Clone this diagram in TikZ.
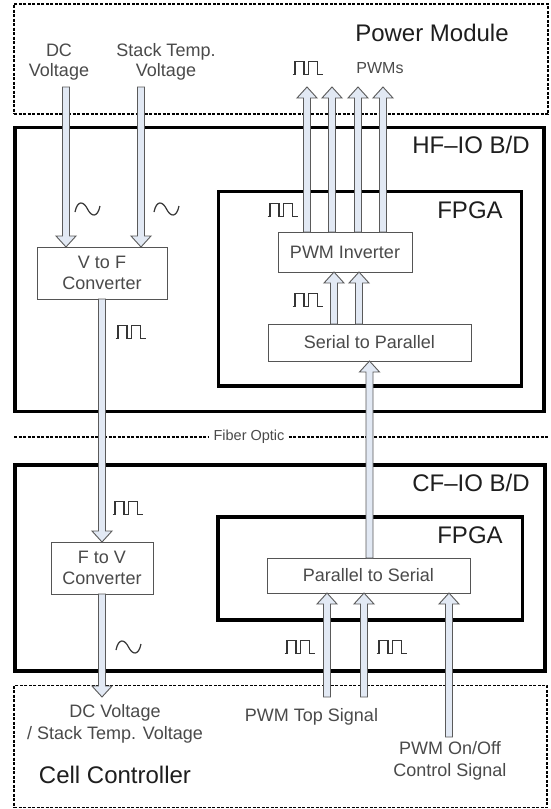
\documentclass[tikz,border=0pt]{standalone}
\usepackage{fontspec}
\setmainfont{Liberation Sans}
\usetikzlibrary{calc}
\definecolor{arrfill}{HTML}{E2E9F4}
\definecolor{arrline}{HTML}{5A5A5A}
\definecolor{txtgray}{HTML}{4A4A4A}
\definecolor{txtdark}{HTML}{1E1E1E}
\definecolor{boxline}{HTML}{555555}
\newcommand{\bigarrow}[2]{\path[bigarr] let \p1=#1, \p2=#2, \n1={ifthenelse(\y2>\y1,1,-1)} in
  ({\x1-3.5pt},\y1) -- ({\x1-3.5pt},{\y2-\n1*11pt}) -- ({\x1-10pt},{\y2-\n1*11pt}) -- (\x1,\y2)
  -- ({\x1+10pt},{\y2-\n1*11pt}) -- ({\x1+3.5pt},{\y2-\n1*11pt}) -- ({\x1+3.5pt},\y1) -- cycle;}
\tikzset{
  bigarr/.style={fill=arrfill,draw=arrline,line width=0.9pt,line join=miter},
  thinbox/.style={draw=boxline,line width=1pt,fill=white,inner sep=0pt,outer sep=0pt,
     text=txtgray,align=center,font=\fontsize{18}{21}\selectfont},
  thickbox/.style={draw=black,line width=3.6pt,inner sep=0pt,outer sep=0pt},
  dashbox/.style={draw=black,line width=1.4pt,dash pattern=on 3pt off 1.5pt,inner sep=0pt,outer sep=0pt},
  biglbl/.style={text=txtdark,font=\fontsize{24}{26}\selectfont,inner sep=0pt},
  smlbl/.style={text=txtgray,align=center,font=\fontsize{18}{20.5}\selectfont,inner sep=0pt},
  fiber/.style={draw=black,line width=1.3pt,dash pattern=on 3pt off 1.5pt},
  sqw/.pic={\draw[txtdark!90,line width=1.2pt,line join=miter]
     (-15.5,6.5) -- (-13,6.5) -- (-13,-6.5) -- (-4,-6.5) -- (-4,6.5) -- (0.5,6.5) -- (0.5,-6.5)
     -- (9.5,-6.5) -- (9.5,6.5) -- (15,6.5);},
  tld/.pic={\draw[txtdark!90,line width=1.2pt]
     (-12.5,3) .. controls (-10,-9) and (-4,-8) .. (0,0) .. controls (4,8) and (10,9) .. (12.5,-3);}
}
\begin{document}
\begin{tikzpicture}[x=1pt,y=-1pt]
\useasboundingbox[fill=white] (0,0) rectangle (550,809);
% outer boxes
\node[dashbox,minimum width=534pt,minimum height=110pt] (pm) at (281,59) {};
\node[dashbox,minimum width=533pt,minimum height=122pt] (cc) at (280.5,746.5) {};
\node[thickbox,minimum width=529pt,minimum height=284pt] (hf) at (279.5,269.5) {};
\node[thickbox,minimum width=303pt,minimum height=194.5pt] (fpgaA) at (370,288.75) {};
\node[thickbox,minimum width=530pt,minimum height=206pt] (cf) at (280,568) {};
\node[thickbox,minimum width=304.5pt,minimum height=103pt] (fpgaB) at (370.25,568.5) {};
% labels of outer boxes
\node[biglbl] (pmlbl) at (432,33) {Power Module};
\node[biglbl] (hflbl) at (471,145) {HF–IO B/D};
\node[biglbl] (fpgaAlbl) at (470,210) {FPGA};
\node[biglbl] (cflbl) at (471,483) {CF–IO B/D};
\node[biglbl] (fpgaBlbl) at (470,535) {FPGA};
\node[biglbl] (cclbl) at (115,775) {Cell Controller};
% inner boxes
\node[thinbox,minimum width=134pt,minimum height=40pt] (pwm) at (345,252) {PWM Inverter};
\node[thinbox,minimum width=203pt,minimum height=37pt] (s2p) at (369.5,342.5) {Serial to Parallel};
\node[thinbox,minimum width=130pt,minimum height=52pt] (vf) at (102,273) {V to F\\Converter};
\node[thinbox,minimum width=203pt,minimum height=35pt] (p2s) at (368.5,575.5) {Parallel to Serial};
\node[thinbox,minimum width=102pt,minimum height=52pt] (fv) at (102,568) {F to V\\Converter};
% small labels
\node[smlbl] (dclbl) at (59,62) {DC\\Voltage};
\node[smlbl] (stlbl) at (166,62) {Stack Temp.\\Voltage};
\node[smlbl,font=\fontsize{16}{18}\selectfont] (pwmslbl) at (380,68) {PWMs};
\node[smlbl,align=center,font=\fontsize{18}{22}\selectfont] (dcout) at (115,724) {DC Voltage\\/ Stack Temp. Voltage};
\node[smlbl] (toplbl) at (311.5,717) {PWM Top Signal};
\node[smlbl,font=\fontsize{18}{22}\selectfont] (onofflbl) at (450,761) {PWM On/Off\\Control Signal};
% fiber optic line
\node[smlbl,font=\fontsize{14.5}{16}\selectfont] (fo) at (249,437) {Fiber Optic};
\coordinate (fol) at (14,437);
\coordinate (for) at (548,437);
\draw[fiber] (fol) -- ([xshift=-5pt]fo.west);
\draw[fiber] ([xshift=4pt]fo.east) -- (for);
% signal symbols
\pic at (308,68) {sqw};
\pic at (283,210) {sqw};
\pic at (308,300) {sqw};
\pic at (131,332) {sqw};
\pic at (128,508) {sqw};
\pic at (300,647) {sqw};
\pic at (392,647) {sqw};
\pic at (87.5,209) {tld};
\pic at (166.5,209) {tld};
\pic at (128.5,647) {tld};
% arrow coordinates
\coordinate (dcin) at (66,87);
\coordinate (stin) at (141,87);
\coordinate (ccin) at (102,697);
\coordinate (sp1) at (334,0);
\coordinate (sp2) at (359,0);
\coordinate (po1) at (307,87);
\coordinate (po2) at (332,87);
\coordinate (po3) at (358,87);
\coordinate (po4) at (383,87);
\coordinate (pt1) at (327,697);
\coordinate (pt2) at (364,697);
\coordinate (pt3) at (449,737);
% arrows
\bigarrow{(dcin)}{(vf.north -| dcin)}
\bigarrow{(stin)}{(vf.north -| stin)}
\bigarrow{(vf.south)}{(fv.north)}
\bigarrow{(fv.south)}{(ccin)}
\bigarrow{(p2s.north -| s2p.south)}{(s2p.south)}
\bigarrow{(s2p.north -| sp1)}{(pwm.south -| sp1)}
\bigarrow{(s2p.north -| sp2)}{(pwm.south -| sp2)}
\bigarrow{(pwm.north -| po1)}{(po1)}
\bigarrow{(pwm.north -| po2)}{(po2)}
\bigarrow{(pwm.north -| po3)}{(po3)}
\bigarrow{(pwm.north -| po4)}{(po4)}
\bigarrow{(pt1)}{(p2s.south -| pt1)}
\bigarrow{(pt2)}{(p2s.south -| pt2)}
\bigarrow{(pt3)}{(p2s.south -| pt3)}
\end{tikzpicture}
\end{document}
